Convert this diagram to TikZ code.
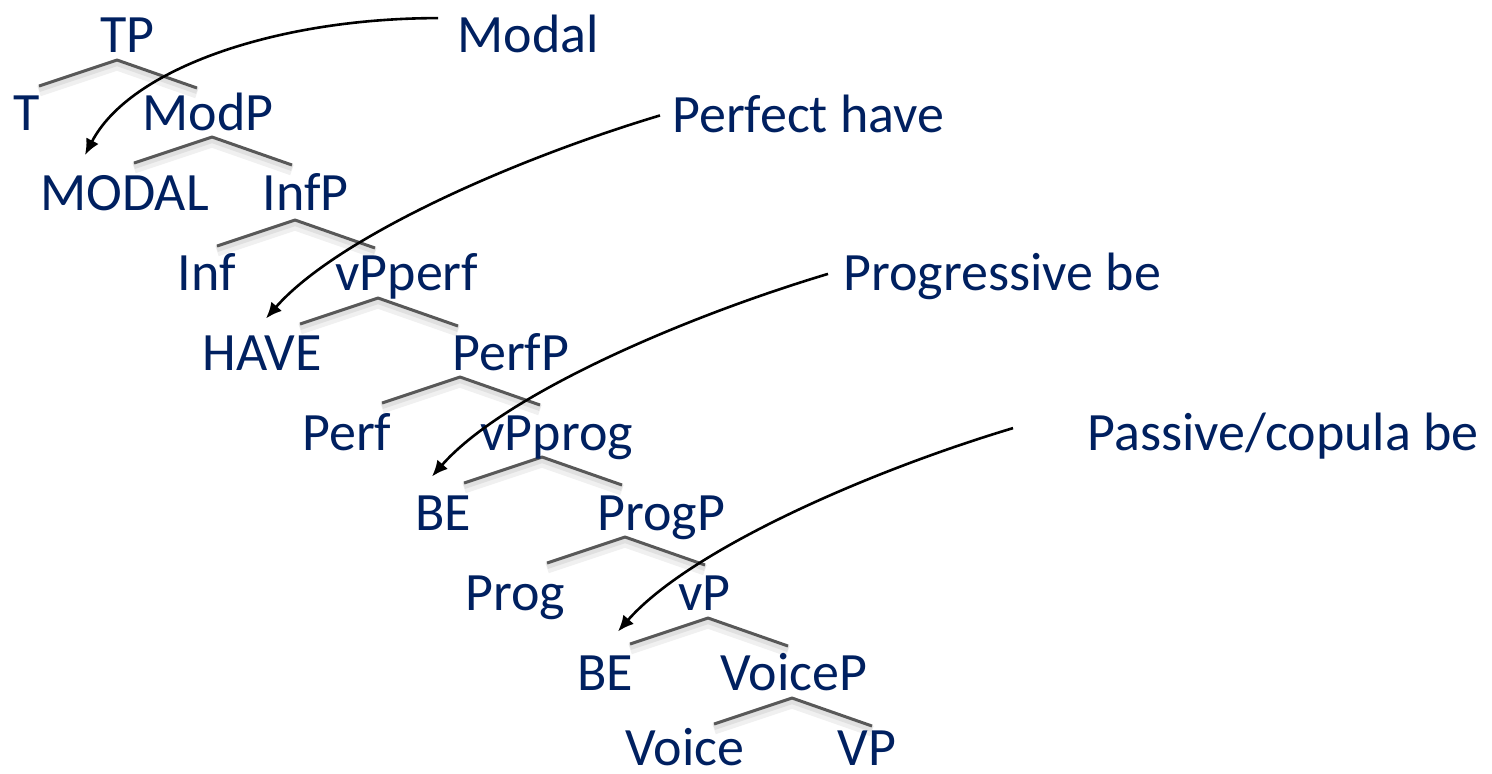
\documentclass[tikz,border=0pt]{standalone}
\usepackage{fontspec}
\setmainfont{Carlito}
\usetikzlibrary{arrows.meta}

\definecolor{treeblue}{RGB}{0,32,96}
\definecolor{branchgray}{RGB}{88,88,88}

\tikzset{
  cat/.style={anchor=base west, inner sep=0pt, text=treeblue,
    font=\fontsize{27}{32}\selectfont},
  mover/.style={line width=1.3pt, -{Latex[length=8pt,width=7pt]}},
  branch/.pic={
    % soft shadow under the two arms
    \draw[line width=5.5pt, black!6, line join=round, shift={(0,5)}]
      (-78,26) -- (0,0) -- (80,28);
    \draw[line width=3pt, black!12, line join=round, shift={(0,3)}]
      (-78,26) -- (0,0) -- (80,28);
    % the arms
    \draw[line width=1.5pt, branchgray, line join=round]
      (-78,26) -- (0,0) -- (80,28);
  }
}

\begin{document}
\begin{tikzpicture}[x=0.5pt,y=-0.5pt]

\useasboundingbox (0,0) rectangle (1492,773);

% Branches, one below each phrase
\foreach \bx/\by in {117/60, 212/137, 295/220, 378/298, 460/377,
                     542/457, 625/537, 708/618, 792/698}
  \pic at (\bx,\by) {branch};

% Tree
\node[cat] (tp) at (100,52) {TP};
\node[cat] (t) at (13,130) {T};
\node[cat] (modp) at (142,130) {ModP};
\node[cat] (modalh) at (40,210) {MODAL};
\node[cat] (infp) at (262,210) {InfP};
\node[cat] (inf) at (177,290) {Inf};
\node[cat] (vpperf) at (335,290) {vPperf};
\node[cat] (haveh) at (202,370) {HAVE};
\node[cat] (perfp) at (452,370) {PerfP};
\node[cat] (perf) at (302,450) {Perf};
\node[cat] (vpprog) at (480,450) {vPprog};
\node[cat] (beprog) at (415,530) {BE};
\node[cat] (progp) at (597,530) {ProgP};
\node[cat] (prog) at (465,610) {Prog};
\node[cat] (vp) at (678,610) {vP};
\node[cat] (bepass) at (577,690) {BE};
\node[cat] (voicep) at (720,690) {VoiceP};
\node[cat] (voice) at (625,765) {Voice};
\node[cat] (bigvp) at (837,765) {VP};

% Labels
\node[cat] (lmodal) at (457,52) {Modal};
\node[cat] (lhave) at (672,132) {Perfect have};
\node[cat] (lprog) at (843,290) {Progressive be};
\node[cat] (lpass) at (1087,450) {Passive/copula be};

% Arrows into the heads
\draw[mover] ([shift={(-19,4)}]lmodal.north west)
  .. controls +(-160,0) and +(45,-87) .. ([shift={(45,-19.5)}]modalh.north west);
\draw[mover] ([shift={(-12,2)}]lhave.west)
  .. controls +(-150,45) and +(70,-80) .. ([shift={(64,-16.5)}]haveh.north west);
\draw[mover] ([shift={(-15,-2)}]lprog.west)
  .. controls +(-150,45) and +(70,-80) .. ([shift={(17,-18.5)}]beprog.north west);
\draw[mover] ([shift={(-74,-7.5)}]lpass.west)
  .. controls +(-150,45) and +(70,-80) .. ([shift={(41,-23.5)}]bepass.north west);

\end{tikzpicture}
\end{document}
